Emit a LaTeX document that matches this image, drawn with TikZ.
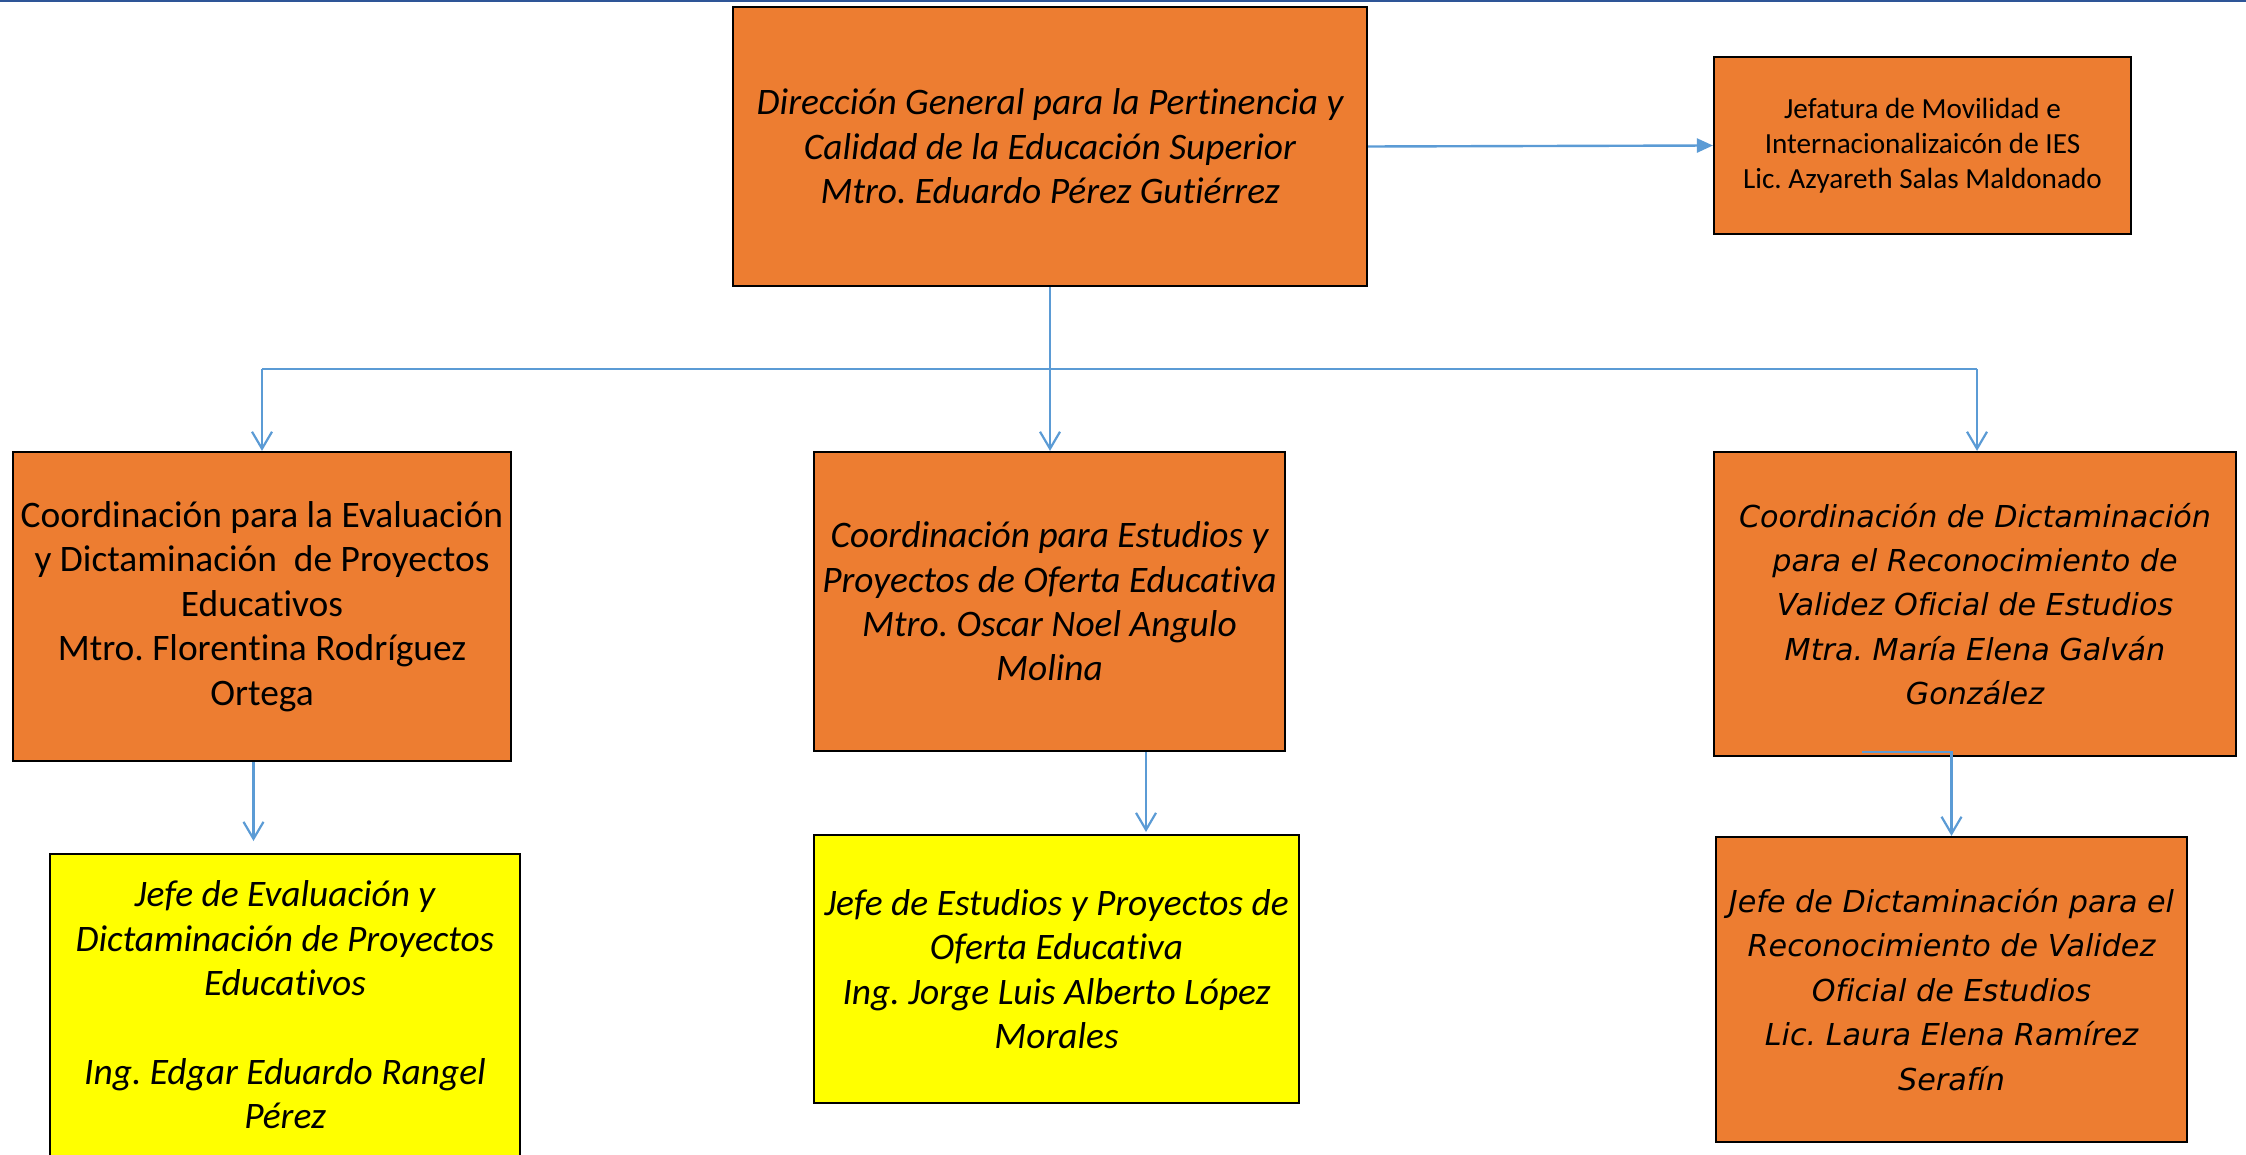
\documentclass[tikz,border=0pt]{standalone}
\usepackage{fontspec}
\setmainfont{Carlito}[Ligatures=NoCommon]
\newfontfamily\verd{DejaVu Sans}[Ligatures=NoCommon]
\usetikzlibrary{arrows.meta}
\frenchspacing
\definecolor{boxorange}{HTML}{ED7D31}
\definecolor{boxyellow}{HTML}{FFFF00}
\definecolor{linkblue}{HTML}{5B9BD5}
\definecolor{topblue}{HTML}{2E5597}
\tikzset{
  orgbox/.style={draw=black, line width=1.1pt, fill=boxorange, align=center, inner sep=0pt},
  yelbox/.style={draw=black, line width=1.1pt, fill=boxyellow, align=center, inner sep=0pt},
  bigtext/.style={font=\fontsize{18.7}{22.2}\selectfont},
  smalltext/.style={font=\fontsize{14.6}{17.5}\selectfont},
  verdtext/.style={font=\verd\fontsize{15.1}{22.2}\selectfont\itshape},
  link/.style={draw=linkblue, line width=1.1pt},
  openarr/.style={link, -{Straight Barb[length=8.5pt,width=10pt,line width=1.1pt]}},
  fillarr/.style={link, line width=1.2pt, -{Triangle[length=8pt,width=7pt]}}
}
\begin{document}
\begin{tikzpicture}[x=0.5pt,y=-0.5pt]
\useasboundingbox (0,0) rectangle (2246,1155);
\draw[topblue, line width=0.8pt] (0,0.8) -- (2246,0.8);
% boxes
\node[orgbox, bigtext, minimum width=317pt, minimum height=139.5pt] (dir) at (1050,146.5)
  {\itshape Dirección General para la Pertinencia y\\ \itshape Calidad de la Educación Superior\\ \itshape Mtro. Eduardo Pérez Gutiérrez};
\node[orgbox, smalltext, minimum width=208.5pt, minimum height=88.5pt] (jef) at (1922.5,145.5)
  {Jefatura de Movilidad e\\ Internacionalizaicón de IES\\ Lic. Azyareth Salas Maldonado};
\node[orgbox, bigtext, minimum width=249pt, minimum height=154.5pt] (c1) at (262,606.5)
  {Coordinación para la Evaluación\\ y Dictaminación\ \ de Proyectos\\ Educativos\\ Mtro. Florentina Rodríguez\\ Ortega};
\node[orgbox, bigtext, minimum width=235.5pt, minimum height=149.5pt] (c2) at (1049.5,601.5)
  {\itshape Coordinación para Estudios y\\ \itshape Proyectos de Oferta Educativa\\ \itshape Mtro. Oscar Noel Angulo\\ \itshape Molina};
\node[orgbox, verdtext, minimum width=261pt, minimum height=152pt] (c3) at (1975,604)
  {Coordinación de Dictaminación\\ para el Reconocimiento de\\ Validez Oficial de Estudios\\ Mtra. María Elena Galván\\ González};
\node[yelbox, bigtext, minimum width=235pt, minimum height=151pt] (j1) at (285,1005)
  {\itshape Jefe de Evaluación y\\ \itshape Dictaminación de Proyectos\\ \itshape Educativos\\[22.2pt] \itshape Ing. Edgar Eduardo Rangel\\ \itshape Pérez};
\node[yelbox, bigtext, minimum width=242.5pt, minimum height=134pt] (j2) at (1056.5,969)
  {\itshape Jefe de Estudios y Proyectos de\\ \itshape Oferta Educativa\\ \itshape Ing. Jorge Luis Alberto López\\ \itshape Morales};
\node[orgbox, verdtext, minimum width=235.5pt, minimum height=152.5pt] (j3) at (1951.5,989.5)
  {Jefe de Dictaminación para el\\ Reconocimiento de Validez\\ Oficial de Estudios\\ Lic. Laura Elena Ramírez\\ Serafín};
% connectors
\draw[fillarr] (dir.east) -- (jef.west);
\coordinate (busL) at (262,369);
\coordinate (busR) at (1977,369);
\draw[link] (dir.south) -- (dir.south |- busL);
\draw[link] (busL) -- (busR);
\draw[openarr] (busL) -- (c1.north);
\draw[openarr] (dir.south |- busL) -- (dir.south |- c2.north);
\draw[openarr] (busR) -- (busR |- c3.north);
\coordinate (a1) at (253.5,841);
\draw[openarr] (a1 |- c1.south) -- (a1);
\coordinate (a2) at (1146,832);
\draw[openarr] (a2 |- c2.south) -- (a2);
\coordinate (c3s) at (1862,752);
\draw[openarr] (c3s) -| (j3.north);
\end{tikzpicture}
\end{document}
